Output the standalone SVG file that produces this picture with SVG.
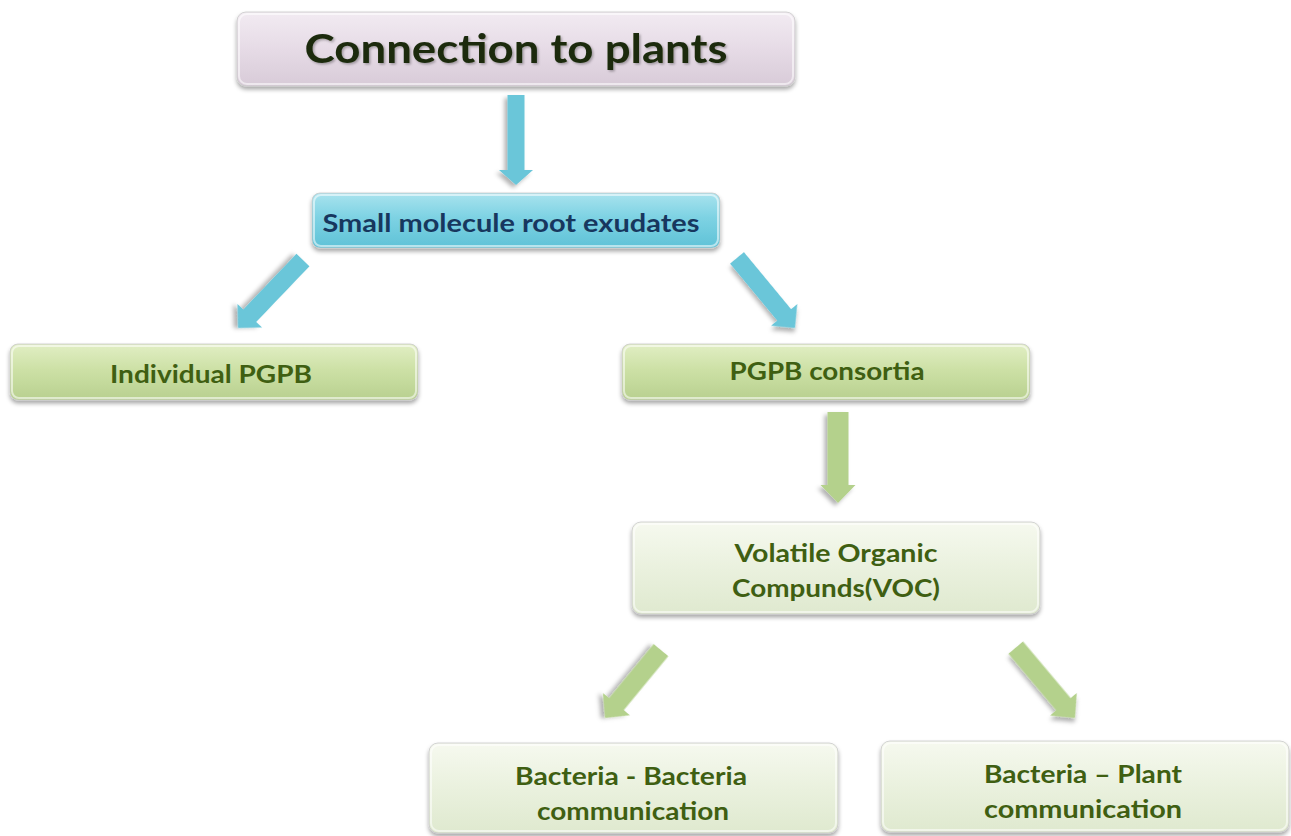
<svg xmlns="http://www.w3.org/2000/svg" width="1291" height="836" viewBox="0 0 1291 836">
  <style>
    .t { font-family: Lato, "Open Sans", "Liberation Sans", sans-serif; font-weight: bold; text-anchor: middle; }
    .title { font-size: 40px; fill: #1b2a0b; }
    .cyan { font-size: 24px; fill: #17375e; }
    .grn { font-size: 25px; fill: #3f5f12; }
    .box { stroke: #c9c9c9; stroke-width: 0.8; }
    .hl { fill: none; stroke: #ffffff; stroke-opacity: 0.55; stroke-width: 2; }
    .ab { fill: #6bc6d9; }
    .ag { fill: #b4d18c; }
  </style>
  <defs>
    <linearGradient id="gTop" x1="0" y1="0" x2="0" y2="1">
      <stop offset="0" stop-color="#f2ebf2"/>
      <stop offset="0.5" stop-color="#e6dbe6"/>
      <stop offset="1" stop-color="#d8cbd8"/>
    </linearGradient>
    <linearGradient id="gCyan" x1="0" y1="0" x2="0" y2="1">
      <stop offset="0" stop-color="#a9e3ee"/>
      <stop offset="0.45" stop-color="#7dd2e3"/>
      <stop offset="1" stop-color="#5fc2d7"/>
    </linearGradient>
    <linearGradient id="gGreen" x1="0" y1="0" x2="0" y2="1">
      <stop offset="0" stop-color="#e1eec4"/>
      <stop offset="0.45" stop-color="#cde1a6"/>
      <stop offset="1" stop-color="#b8d08f"/>
    </linearGradient>
    <linearGradient id="gLight" x1="0" y1="0" x2="0" y2="1">
      <stop offset="0" stop-color="#f6f9ef"/>
      <stop offset="0.5" stop-color="#eaf1de"/>
      <stop offset="1" stop-color="#dfe9cf"/>
    </linearGradient>
    <filter id="sh" x="-10%" y="-20%" width="120%" height="150%">
      <feDropShadow dx="0" dy="3" stdDeviation="2" flood-color="#000" flood-opacity="0.35"/>
    </filter>
    <filter id="ash" x="-30%" y="-30%" width="160%" height="160%">
      <feDropShadow dx="3" dy="3" stdDeviation="2" flood-color="#000" flood-opacity="0.3"/>
    </filter>
    <filter id="tsh" x="-5%" y="-20%" width="110%" height="140%">
      <feDropShadow dx="1.5" dy="1.5" stdDeviation="1" flood-color="#000" flood-opacity="0.3"/>
    </filter>
  </defs>

  <rect width="1291" height="836" fill="#ffffff"/>

  <g id="connectors">
    <polygon class="ab" filter="url(#ash)" transform="translate(516,185) rotate(90)" points="0,0 -15,-17 -15,-8.5 -90,-8.5 -90,8.5 -15,8.5 -15,17"/>
    <polygon class="ab" filter="url(#ash)" transform="translate(238,328) rotate(133.7)" points="0,0 -17,-17 -17,-9 -94,-9 -94,9 -17,9 -17,17"/>
    <polygon class="ab" filter="url(#ash)" transform="translate(795,328) rotate(50.4)" points="0,0 -17,-17 -17,-9 -91,-9 -91,9 -17,9 -17,17"/>
    <polygon class="ag" filter="url(#ash)" transform="translate(838,503) rotate(90)" points="0,0 -18,-17.5 -18,-10.5 -91,-10.5 -91,10.5 -18,10.5 -18,17.5"/>
    <polygon class="ag" filter="url(#ash)" transform="translate(605,718) rotate(129.5)" points="0,0 -18,-17.5 -18,-9.5 -88,-9.5 -88,9.5 -18,9.5 -18,17.5"/>
    <polygon class="ag" filter="url(#ash)" transform="translate(1075,718) rotate(49.9)" points="0,0 -18,-17.5 -18,-9.5 -92,-9.5 -92,9.5 -18,9.5 -18,17.5"/>
  </g>

  <g id="node-connection">
    <rect class="box" x="237" y="12" width="558" height="74" rx="9" fill="url(#gTop)" filter="url(#sh)"/>
    <rect class="hl" x="239" y="14" width="554" height="70" rx="8"/>
    <text class="t title" x="516" y="63" textLength="423" lengthAdjust="spacingAndGlyphs" filter="url(#tsh)">Connection to plants</text>
  </g>

  <g id="node-exudates">
    <rect class="box" x="312" y="193" width="408" height="55" rx="8" fill="url(#gCyan)" filter="url(#sh)"/>
    <rect class="hl" x="314" y="195" width="404" height="51" rx="7"/>
    <text class="t cyan" x="511" y="232" textLength="377" lengthAdjust="spacingAndGlyphs">Small molecule root exudates</text>
  </g>

  <g id="node-individual">
    <rect class="box" x="10" y="344" width="408" height="56" rx="8" fill="url(#gGreen)" filter="url(#sh)"/>
    <rect class="hl" x="12" y="346" width="404" height="52" rx="7"/>
    <text class="t grn" x="211" y="383" textLength="202" lengthAdjust="spacingAndGlyphs">Individual PGPB</text>
  </g>

  <g id="node-consortia">
    <rect class="box" x="622" y="344" width="408" height="56" rx="8" fill="url(#gGreen)" filter="url(#sh)"/>
    <rect class="hl" x="624" y="346" width="404" height="52" rx="7"/>
    <text class="t grn" x="827" y="380" textLength="195" lengthAdjust="spacingAndGlyphs">PGPB consortia</text>
  </g>

  <g id="node-voc">
    <rect class="box" x="632" y="522" width="408" height="92" rx="9" fill="url(#gLight)" filter="url(#sh)"/>
    <rect class="hl" x="634" y="524" width="404" height="88" rx="8"/>
    <text class="t grn" x="836" y="562" textLength="203" lengthAdjust="spacingAndGlyphs">Volatile Organic</text>
    <text class="t grn" x="836" y="597" textLength="208" lengthAdjust="spacingAndGlyphs">Compunds(VOC)</text>
  </g>

  <g id="node-bb">
    <rect class="box" x="429" y="743" width="409" height="90" rx="9" fill="url(#gLight)" filter="url(#sh)"/>
    <rect class="hl" x="431" y="745" width="405" height="86" rx="8"/>
    <text class="t grn" x="631" y="785" textLength="232" lengthAdjust="spacingAndGlyphs">Bacteria - Bacteria</text>
    <text class="t grn" x="633" y="820" textLength="192" lengthAdjust="spacingAndGlyphs">communication</text>
  </g>

  <g id="node-bp">
    <rect class="box" x="881" y="741" width="408" height="91" rx="9" fill="url(#gLight)" filter="url(#sh)"/>
    <rect class="hl" x="883" y="743" width="404" height="87" rx="8"/>
    <text class="t grn" x="1083" y="783" textLength="198" lengthAdjust="spacingAndGlyphs">Bacteria – Plant</text>
    <text class="t grn" x="1083" y="818" textLength="198" lengthAdjust="spacingAndGlyphs">communication</text>
  </g>
</svg>
